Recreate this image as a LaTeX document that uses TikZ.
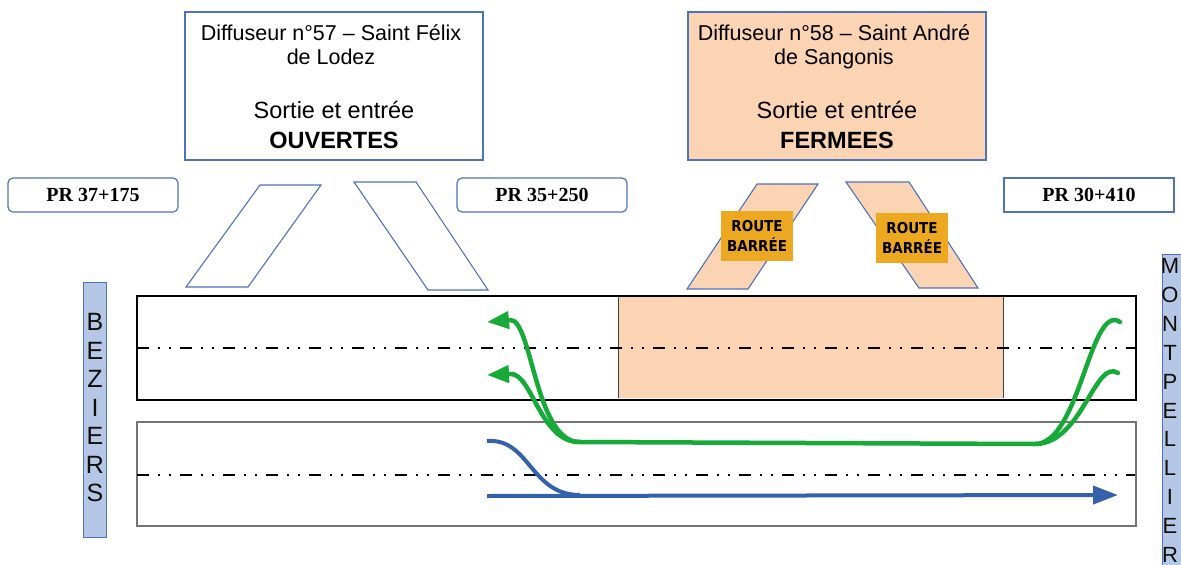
\documentclass[tikz,border=0pt]{standalone}
\usepackage{fontspec}
\setmainfont{Liberation Sans}
\newfontfamily\prfont{Liberation Serif}
\newfontfamily\signfont{DejaVu Sans Condensed}
\usetikzlibrary{arrows.meta}
\definecolor{boxBlue}{RGB}{79,113,190}
\definecolor{barBlue}{RGB}{180,199,231}
\definecolor{closedPeach}{RGB}{251,212,180}
\definecolor{signGold}{RGB}{237,168,33}
\definecolor{detourGreen}{RGB}{24,170,57}
\definecolor{flowBlue}{RGB}{52,98,170}

\begin{document}
\begin{tikzpicture}[x=1pt, y=-1pt,
    diffbox/.style={draw=boxBlue, line width=1.2pt, minimum width=298pt, minimum height=148pt, inner sep=0pt},
    prbox/.style={draw=boxBlue, line width=1.2pt, rounded corners=5pt, minimum width=170pt, minimum height=34pt, inner sep=0pt, font=\prfont\bfseries\fontsize{20}{20}\selectfont},
    ramp/.style={draw=boxBlue, line width=1.1pt},
    sign/.style={fill=signGold, minimum width=72pt, minimum height=50pt, inner sep=0pt, align=center, font=\signfont\bfseries\fontsize{15}{20}\selectfont},
    bar/.style={draw=boxBlue, fill=barBlue, line width=1pt},
    barletter/.style={inner sep=0pt, text=black!90!brown, font=\fontsize{25}{25}\selectfont},
    axis/.style={line width=1.6pt, dash pattern=on 12pt off 9pt on 2pt off 9pt on 2pt off 9pt},
  ]
  \useasboundingbox (0,0) rectangle (1181,565);

  % Interchange boxes
  \node[diffbox, fill=white] (d57) at (334,86) {};
  \node[anchor=base] (d57l1) at (331,40) {\fontsize{21.5}{21.5}\selectfont Diffuseur n°57 – Saint Félix};
  \node[anchor=base] (d57l2) at (331,64) {\fontsize{21.5}{21.5}\selectfont de Lodez};
  \node[anchor=base] (d57l3) at (334,118) {\fontsize{23.5}{23.5}\selectfont Sortie et entrée};
  \node[anchor=base] (d57l4) at (334,148) {\fontsize{23.5}{23.5}\selectfont\bfseries OUVERTES};

  \node[diffbox, fill=closedPeach] (d58) at (837,86) {};
  \node[anchor=base] (d58l1) at (834,40) {\fontsize{21.5}{21.5}\selectfont Diffuseur n°58 – Saint André};
  \node[anchor=base] (d58l2) at (834,64) {\fontsize{21.5}{21.5}\selectfont de Sangonis};
  \node[anchor=base] (d58l3) at (837,118) {\fontsize{23.5}{23.5}\selectfont Sortie et entrée};
  \node[anchor=base] (d58l4) at (837,148) {\fontsize{23.5}{23.5}\selectfont\bfseries FERMEES};

  % PR markers
  \node[prbox] (pr37) at (93,195) {PR 37+175};
  \node[prbox] (pr35) at (542,195) {PR 35+250};
  \node[prbox, rounded corners=0pt] (pr30) at (1089,195) {PR 30+410};

  % Ramps
  \draw[ramp, fill=white] (186,287) -- (248,287) -- (321,185) -- (260,185) -- cycle;
  \draw[ramp, fill=white] (354,182) -- (416,182) -- (488,290) -- (428,290) -- cycle;
  \draw[ramp, fill=closedPeach] (687,289) -- (748,289) -- (818,184) -- (757,184) -- cycle;
  \draw[ramp, fill=closedPeach] (846,182) -- (909,182) -- (978,288) -- (919,288) -- cycle;
  \node[sign] (sign1) at (757,236) {ROUTE\\BARRÉE};
  \node[sign] (sign2) at (912,238) {ROUTE\\BARRÉE};

  % Carriageways
  \draw[line width=1.2pt] (137,296) rectangle (1136,400);
  \fill[closedPeach] (618,297) rectangle (1003,398);
  \draw[line width=1pt, black!75] (618,398) -- (618,297) (1003,297) -- (1003,398);
  \draw[line width=1.2pt, black!55] (137,422) rectangle (1136,526);
  \draw[axis] (137,348) -- (1135,348);
  \draw[axis] (137,475) -- (1135,475);

  % Detour
  \coordinate (gUp) at (1120,322);
  \coordinate (gLow) at (1118,373);
  \coordinate (gRise) at (1035,444);
  \coordinate (gFall) at (580,442);
  \coordinate (gOut1) at (487,322);
  \coordinate (gOut2) at (487,375);
  \draw[detourGreen, line width=4.5pt, line cap=round] (gUp) .. controls (1090,302) and (1080,444) .. (gRise);
  \draw[detourGreen, line width=4.5pt, line cap=round] (gLow) .. controls (1095,358) and (1082,444) .. (gRise);
  \draw[detourGreen, line width=4.5pt] (gRise) -- (gFall);
  \draw[detourGreen, line width=4.5pt, -{Triangle[length=22pt, width=17pt]}]
    (gFall) .. controls (535,443) and (532,318) .. (510,320) -- (gOut1);
  \draw[detourGreen, line width=4.5pt, -{Triangle[length=22pt, width=17pt]}]
    (gFall) .. controls (540,443) and (532,372) .. (510,374) -- (gOut2);

  % Through traffic
  \coordinate (bIn) at (487,441);
  \coordinate (bMerge) at (580,495);
  \coordinate (bStart) at (487,496);
  \coordinate (bEnd) at (1118,495);
  \draw[flowBlue, line width=4pt] (bIn) .. controls (530,438) and (530,495) .. (bMerge);
  \draw[flowBlue, line width=4pt, -{Triangle[length=25pt, width=18pt]}] (bStart) -- (bEnd);

  % Direction bars
  \draw[bar] (83,282) rectangle (106,537);
  \foreach \l [count=\i from 0] in {B,E,Z,I,E,R,S}
    \node[barletter] (bz\i) at (95,322+28.5*\i) {\l};
  \draw[bar] (1162,254) rectangle (1195,570);
  \foreach \l [count=\i from 0] in {M,O,N,T,P,E,L,L,I,E,R}
    \node[barletter, font=\fontsize{22}{22}\selectfont] (mp\i) at (1170,266+28.9*\i) {\l};
\end{tikzpicture}
\end{document}
